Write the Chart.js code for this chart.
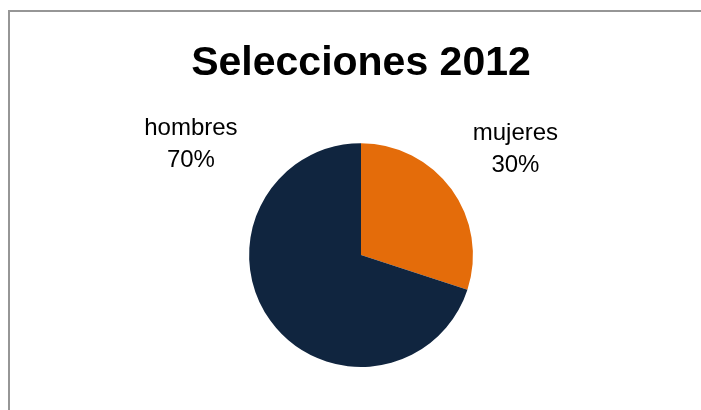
<!DOCTYPE html>
<html>
<head>
<meta charset="utf-8">
<script src="https://cdn.jsdelivr.net/npm/chart.js@4/dist/chart.umd.min.js"></script>
<style>
    body { margin: 0; background: #fff; }
    .wrap { position: relative; width: 701px; height: 410px; overflow: hidden; }
    .frame {
        position: absolute; left: 8px; top: 10px; width: 720px; height: 420px;
        border-left: 2px solid #969696; border-top: 2px solid #969696;
    }
    canvas { position: absolute; left: 0; top: 0; }
</style>
</head>
<body>
<div class="wrap">
    <div class="frame"></div>
    <canvas id="pieChart" width="701" height="410"></canvas>
</div>
<script>
const titleText = 'Selecciones 2012';
const categories = ['mujeres', 'hombres'];
const values = [30, 70];
const sliceColors = ['#E46C0A', '#10253F'];

// label anchors, in units of the pie radius from its centre (first line baseline)
const labelAnchors = [
    { dx: 1.38, dy: -1.03 },
    { dx: -1.52, dy: -1.07 }
];

const sliceLabels = {
    id: 'sliceLabels',
    afterDatasetsDraw(chart) {
        const ctx = chart.ctx;
        const arcs = chart.getDatasetMeta(0).data;
        const data = chart.data.datasets[0].data;
        const total = data.reduce((a, b) => a + b, 0);
        ctx.save();
        ctx.font = '24px "Liberation Sans", Arial, sans-serif';
        ctx.fillStyle = '#000';
        ctx.textAlign = 'center';
        ctx.textBaseline = 'alphabetic';
        arcs.forEach((arc, i) => {
            const r = arc.outerRadius;
            const x = arc.x + labelAnchors[i].dx * r;
            const y = arc.y + labelAnchors[i].dy * r;
            const pct = Math.round(data[i] / total * 100) + '%';
            ctx.fillText(chart.data.labels[i], x, y);
            ctx.fillText(pct, x, y + 32);
        });
        ctx.restore();
    }
};

new Chart(document.getElementById('pieChart'), {
    type: 'pie',
    data: {
        labels: categories,
        datasets: [{
            data: values,
            backgroundColor: sliceColors,
            borderWidth: 0
        }]
    },
    options: {
        responsive: false,
        animation: false,
        events: [],
        layout: { padding: { left: 21, right: 0, top: 0, bottom: 43 } },
        plugins: {
            legend: { display: false },
            tooltip: { enabled: false },
            title: {
                display: true,
                text: titleText,
                color: '#000',
                font: { family: '"Liberation Sans", Arial, sans-serif', size: 41, weight: 'bold', lineHeight: 1.2 },
                padding: { top: 39, bottom: 55 }
            }
        }
    },
    plugins: [sliceLabels]
});
</script>
</body>
</html>
